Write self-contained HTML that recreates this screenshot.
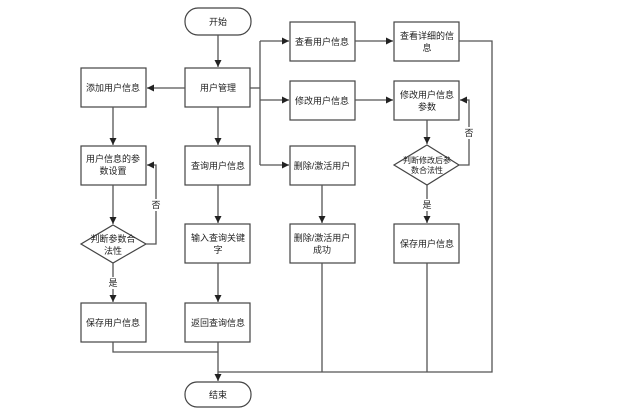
<!DOCTYPE html>
<html><head><meta charset="utf-8"><style>
html,body{margin:0;padding:0;background:#fff;}
svg text{font-family:"Liberation Sans","Noto Sans CJK SC",sans-serif;font-size:9px;fill:#222;text-anchor:middle;}
</style></head><body>
<svg width="644" height="415" viewBox="0 0 644 415" xmlns="http://www.w3.org/2000/svg">
<defs>
<marker id="a" markerWidth="8" markerHeight="8" refX="7" refY="4" orient="auto" markerUnits="userSpaceOnUse">
<path d="M0,0.5 L7,4 L0,7.5 z" fill="#222"/></marker>
</defs>
<g fill="#fff" stroke="#444" stroke-width="1.2">
<rect x="185" y="8" width="66" height="27" rx="13"/>
<rect x="185" y="382" width="66" height="25" rx="12"/>
<rect x="81" y="68" width="65" height="39"/>
<rect x="185" y="68" width="65" height="39"/>
<rect x="290" y="22" width="65" height="39"/>
<rect x="394" y="22" width="65" height="39"/>
<rect x="290" y="81" width="65" height="39"/>
<rect x="394" y="81" width="65" height="39"/>
<rect x="81" y="146" width="65" height="39"/>
<rect x="185" y="146" width="65" height="39"/>
<rect x="290" y="146" width="65" height="39"/>
<polygon points="427,145 459,165 427,185 394,165"/>
<polygon points="113,225 146,244 113,263 81,244"/>
<rect x="185" y="224" width="65" height="39"/>
<rect x="290" y="224" width="65" height="39"/>
<rect x="394" y="224" width="65" height="39"/>
<rect x="81" y="303" width="65" height="39"/>
<rect x="185" y="303" width="65" height="39"/>
</g>
<g fill="none" stroke="#555" stroke-width="1.3">
<line x1="218" y1="35" x2="218" y2="67" marker-end="url(#a)"/>
<line x1="185" y1="88" x2="147" y2="88" marker-end="url(#a)"/>
<line x1="250" y1="88" x2="260" y2="88"/>
<polyline points="260,41 260,165"/>
<line x1="260" y1="41" x2="289" y2="41" marker-end="url(#a)"/>
<line x1="260" y1="100" x2="289" y2="100" marker-end="url(#a)"/>
<line x1="260" y1="165" x2="289" y2="165" marker-end="url(#a)"/>
<line x1="355" y1="41" x2="393" y2="41" marker-end="url(#a)"/>
<line x1="355" y1="100" x2="393" y2="100" marker-end="url(#a)"/>
<line x1="113" y1="107" x2="113" y2="145" marker-end="url(#a)"/>
<line x1="218" y1="107" x2="218" y2="145" marker-end="url(#a)"/>
<line x1="113" y1="185" x2="113" y2="224" marker-end="url(#a)"/>
<polyline points="146,244 156,244 156,165 147,165" marker-end="url(#a)"/>
<line x1="113" y1="263" x2="113" y2="302" marker-end="url(#a)"/>
<line x1="218" y1="185" x2="218" y2="223" marker-end="url(#a)"/>
<line x1="218" y1="263" x2="218" y2="302" marker-end="url(#a)"/>
<line x1="322" y1="185" x2="322" y2="223" marker-end="url(#a)"/>
<line x1="427" y1="120" x2="427" y2="144" marker-end="url(#a)"/>
<polyline points="459,165 469,165 469,100 460,100" marker-end="url(#a)"/>
<line x1="427" y1="185" x2="427" y2="223" marker-end="url(#a)"/>
<polyline points="113,342 113,352 218,352"/>
<line x1="218" y1="342" x2="218" y2="381" marker-end="url(#a)"/>
<line x1="322" y1="263" x2="322" y2="372"/>
<line x1="427" y1="263" x2="427" y2="372"/>
<polyline points="459,41 492,41 492,372 218,372"/>
</g>
<g fill="#fff"><rect x="150" y="199" width="12" height="12"/><rect x="463" y="127" width="12" height="12"/><rect x="107" y="277" width="12" height="12"/><rect x="421" y="199" width="12" height="12"/></g>
<text x="218" y="25">开始</text>
<text x="218" y="398">结束</text>
<text x="113" y="91">添加用户信息</text>
<text x="218" y="91">用户管理</text>
<text x="322" y="45">查看用户信息</text>
<text x="427" y="39">查看详细的信</text><text x="427" y="51">息</text>
<text x="322" y="104">修改用户信息</text>
<text x="427" y="98">修改用户信息</text><text x="427" y="110">参数</text>
<text x="113" y="162">用户信息的参</text><text x="113" y="174">数设置</text>
<text x="218" y="169">查询用户信息</text>
<text x="322" y="169">删除/激活用户</text>
<text x="427" y="163" style="font-size:8px">判断修改后参</text><text x="427" y="173" style="font-size:8px">数合法性</text>
<text x="113" y="242">判断参数合</text><text x="113" y="254">法性</text>
<text x="218" y="241">输入查询关键</text><text x="218" y="253">字</text>
<text x="322" y="241">删除/激活用户</text><text x="322" y="253">成功</text>
<text x="427" y="247">保存用户信息</text>
<text x="113" y="326">保存用户信息</text>
<text x="218" y="326">返回查询信息</text>
<text x="156" y="208">否</text>
<text x="469" y="136">否</text>
<text x="113" y="286">是</text>
<text x="427" y="208">是</text>
</svg>
</body></html>
